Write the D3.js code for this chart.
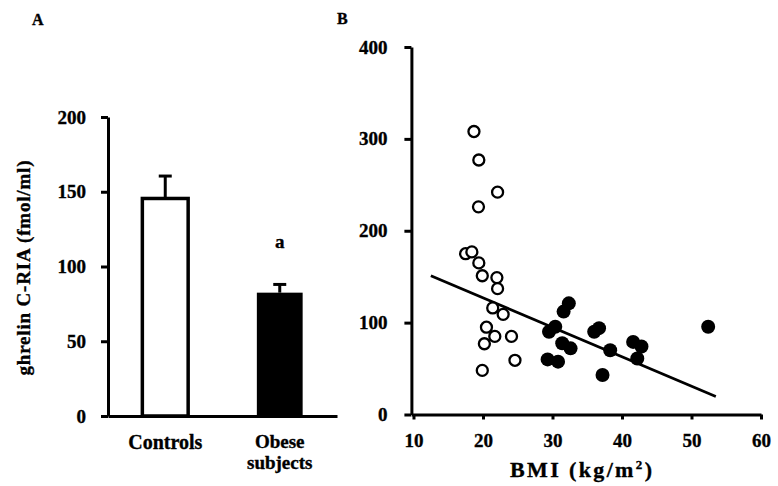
<!DOCTYPE html>
<html>
<head>
<meta charset="utf-8">
<script src="https://cdn.jsdelivr.net/npm/d3@7"></script>
<style>
  html, body { margin: 0; padding: 0; background: #fff; }
  svg { display: block; }
  text { font-family: "Liberation Serif", "Times New Roman", serif; font-weight: bold; fill: #000; stroke: #000; stroke-width: 0.35px; }
</style>
</head>
<body>
<svg id="chart" width="778" height="486"></svg>
<script>
// ---------- Panel A data ----------
const groups = ["Controls", "Obese subjects"];
const groupMeans = [145.5, 82.5];
const groupErrors = [15, 5.5];
const yTicksA = [0, 50, 100, 150, 200];

// ---------- Panel B data ----------
const controlBMI =    [18.7, 19.4, 22.1, 19.35, 17.5, 18.4, 19.4, 19.9, 22.0, 22.1, 21.4, 22.9, 20.5, 21.7, 24.1, 20.2, 24.6, 19.9];
const controlGhrelin = [308, 277, 242, 226, 175, 177, 165, 151, 149, 137, 116, 109, 95, 85, 85, 77, 59, 48];
const obeseBMI =      [32.35, 31.6, 30.4, 29.5, 36.7, 36.0, 31.4, 32.6, 38.3, 41.6, 42.8, 42.2, 29.3, 30.8, 37.2, 52.4];
const obeseGhrelin =  [121, 112, 95.5, 90, 94, 90, 77.5, 72, 70, 79, 74, 61, 60, 57.5, 43, 95.5];
const fitBMI = [12.5, 53.5];
const fitGhrelin = [151, 19.5];
const xTicksB = [10, 20, 30, 40, 50, 60];
const yTicksB = [0, 100, 200, 300, 400];

const svg = d3.select("#chart");

// ================= Panel A =================
const yA = d3.scaleLinear().domain([0, 200]).range([416, 117]);
const xA = d3.scaleBand().domain(groups).range([108, 337]).paddingInner(0.6).paddingOuter(0.3);

const gA = svg.append("g");

// bars
gA.selectAll("rect.bar").data(groups).enter().append("rect")
  .attr("class", "bar")
  .attr("x", d => xA(d))
  .attr("width", xA.bandwidth())
  .attr("y", (d, i) => yA(groupMeans[i]))
  .attr("height", (d, i) => yA(0) - yA(groupMeans[i]))
  .attr("fill", (d, i) => i === 0 ? "#fff" : "#000")
  .attr("stroke", "#000")
  .attr("stroke-width", (d, i) => i === 0 ? 3.5 : 0);

// error bars
groups.forEach((g, i) => {
  const cx = xA(g) + xA.bandwidth() / 2;
  gA.append("line")
    .attr("x1", cx).attr("x2", cx)
    .attr("y1", yA(groupMeans[i])).attr("y2", yA(groupMeans[i] + groupErrors[i]))
    .attr("stroke", "#000").attr("stroke-width", 3);
  gA.append("line")
    .attr("x1", cx - 6.5).attr("x2", cx + 6.5)
    .attr("y1", yA(groupMeans[i] + groupErrors[i])).attr("y2", yA(groupMeans[i] + groupErrors[i]))
    .attr("stroke", "#000").attr("stroke-width", 3);
});

// significance mark
gA.append("text")
  .attr("x", xA(groups[1]) + xA.bandwidth() / 2)
  .attr("y", 248)
  .attr("text-anchor", "middle")
  .attr("font-size", 19)
  .text("a");

// y axis
const axA = gA.append("g")
  .attr("transform", "translate(108,0)")
  .call(d3.axisLeft(yA).tickValues(yTicksA).tickSize(7).tickSizeOuter(0).tickPadding(15));
// x axis
const axAx = gA.append("g")
  .attr("transform", "translate(0,416)")
  .call(d3.axisBottom(xA).tickSize(0).tickSizeOuter(0).tickFormat(""));

[axA, axAx].forEach(ax => {
  ax.selectAll("path, line").attr("stroke", "#000").attr("stroke-width", 3);
  ax.selectAll("text").attr("font-size", 19).attr("font-family", null).attr("fill", "#000");
});

// category labels (one text element per category, lines as tspans)
groups.forEach((g, i) => {
  const cx = xA(g) + xA.bandwidth() / 2;
  const words = i === 0 ? [g] : g.split(" ");
  const t = gA.append("text")
    .attr("x", cx)
    .attr("y", i === 0 ? 449 : 447.5)
    .attr("text-anchor", "middle")
    .attr("font-size", i === 0 ? 20 : 19);
  words.forEach((w, j) => {
    t.append("tspan").attr("x", cx).attr("dy", j === 0 ? 0 : 21.5).text(w);
  });
});

// y label
gA.append("text")
  .attr("transform", "translate(30,268) rotate(-90)")
  .attr("text-anchor", "middle")
  .attr("font-size", 19)
  .attr("textLength", 215)
  .attr("lengthAdjust", "spacing")
  .text("ghrelin C-RIA (fmol/ml)");

// panel letter
svg.append("text").attr("x", 32).attr("y", 25).attr("font-size", 16).text("A");

// ================= Panel B =================
const xB = d3.scaleLinear().domain([9.7, 60]).range([411.4, 761]);
const yB = d3.scaleLinear().domain([0, 400]).range([414.5, 47]);

const gB = svg.append("g");

const axBy = gB.append("g")
  .attr("transform", `translate(${xB(9.7)},0)`)
  .call(d3.axisLeft(yB).tickValues(yTicksB).tickSize(7).tickSizeOuter(0).tickPadding(17));
const axBx = gB.append("g")
  .attr("transform", `translate(0,${yB(0)})`)
  .call(d3.axisBottom(xB).tickValues(xTicksB).tickSize(5).tickSizeOuter(0).tickPadding(14));

[axBy, axBx].forEach(ax => {
  ax.selectAll("path, line").attr("stroke", "#000").attr("stroke-width", 3);
  ax.selectAll("text").attr("font-size", 19).attr("font-family", null).attr("fill", "#000");
});

// regression line
gB.append("line")
  .attr("x1", xB(fitBMI[0])).attr("y1", yB(fitGhrelin[0]))
  .attr("x2", xB(fitBMI[1])).attr("y2", yB(fitGhrelin[1]))
  .attr("stroke", "#000").attr("stroke-width", 2.7);

// controls (open)
gB.selectAll("circle.ctrl").data(controlBMI).enter().append("circle")
  .attr("class", "ctrl")
  .attr("cx", d => xB(d))
  .attr("cy", (d, i) => yB(controlGhrelin[i]))
  .attr("r", 5.5)
  .attr("fill", "#fff")
  .attr("stroke", "#000")
  .attr("stroke-width", 2.3);

// obese (filled)
gB.selectAll("circle.obese").data(obeseBMI).enter().append("circle")
  .attr("class", "obese")
  .attr("cx", d => xB(d))
  .attr("cy", (d, i) => yB(obeseGhrelin[i]))
  .attr("r", 7)
  .attr("fill", "#000");

// x label
const xl = gB.append("text")
  .attr("x", 581)
  .attr("y", 477)
  .attr("text-anchor", "middle")
  .attr("font-size", 22)
  .attr("textLength", 142)
  .attr("lengthAdjust", "spacing");
xl.append("tspan").text("BMI (kg/m");
xl.append("tspan").attr("font-size", 13).attr("dy", -8).text("2");
xl.append("tspan").attr("dy", 8).text(")");

svg.append("text").attr("x", 337).attr("y", 24).attr("font-size", 16).text("B");
</script>
</body>
</html>
